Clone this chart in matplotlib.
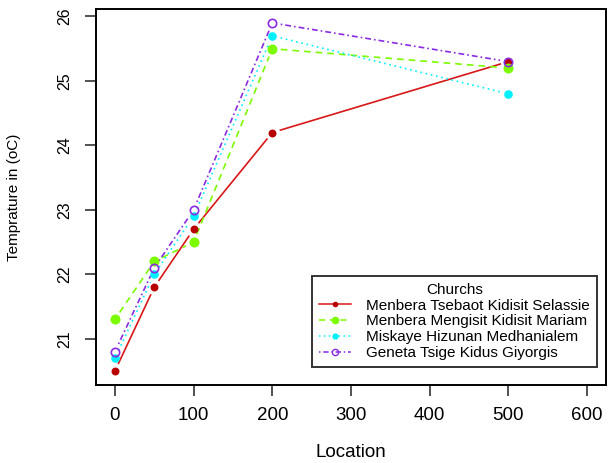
import numpy as np
import matplotlib
matplotlib.use("Agg")
import matplotlib.pyplot as plt
from matplotlib.lines import Line2D

plt.rcParams["font.family"] = ["Liberation Sans", "DejaVu Sans"]

location = [0, 50, 100, 200, 500]
selassie = [20.5, 21.8, 22.7, 24.2, 25.3]
mariam = [21.3, 22.2, 22.5, 25.5, 25.2]
medhanialem = [20.7, 22.0, 22.9, 25.7, 24.8]
giyorgis = [20.8, 22.1, 23.0, 25.9, 25.3]
names = ["Menbera Tsebaot Kidisit Selassie", "Menbera Mengisit Kidisit Mariam",
         "Miskaye Hizunan Medhanialem", "Geneta Tsige Kidus Giyorgis"]
xticks = [0, 100, 200, 300, 400, 500, 600]
yticks = [21, 22, 23, 24, 25, 26]

styles = [
    dict(color="#D81818", dashes=None, ms=4.5, mfc="#B80000", mec="#B80000"),
    dict(color="#7CFC00", dashes=(4, 3), ms=6, mfc="#7CFC00", mec="#7CFC00"),
    dict(color="#00F0FF", dashes=(1, 2.2), ms=5, mfc="#00F0FF", mec="#00F0FF"),
    dict(color="#8A2BE2", dashes=(1, 1.8, 3.5, 1.8), ms=6, mfc="none", mec="#8A2BE2"),
]

fig = plt.figure(figsize=(6.09, 4.63), dpi=100)
ax = fig.add_axes([96 / 609, 78 / 463, 510 / 609, 376 / 463])

# R style limits: range plus 4%
ax.set_xlim(-24, 624)
ax.set_ylim(20.284, 26.116)

gap = 8.5  # pixel gap around each point, like type="b"
series = [selassie, mariam, medhanialem, giyorgis]
for vals, st in zip(series, styles):
    pts = ax.transData.transform(np.column_stack([location, vals]))
    for p0, p1 in zip(pts[:-1], pts[1:]):
        d = p1 - p0
        n = np.hypot(*d)
        if n <= 2 * gap:
            continue
        u = d / n
        seg = ax.transData.inverted().transform(np.array([p0 + u * gap, p1 - u * gap]))
        ln, = ax.plot(seg[:, 0], seg[:, 1], color=st["color"], lw=1.2)
        if st["dashes"]:
            ln.set_dashes(st["dashes"])
for vals, st in zip(series, styles):
    ax.plot(location, vals, linestyle="none", marker="o", ms=st["ms"],
            mfc=st["mfc"], mec=st["mec"], mew=1.2)

ax.set_xticks(xticks)
ax.set_yticks(yticks)
ax.set_xticklabels([str(t) for t in xticks], fontsize=13.5)
ax.set_yticklabels([str(t) for t in yticks], fontsize=11.5, rotation=90, va="center")
ax.tick_params(axis="both", direction="out", length=8, width=1.2, color="#333333")
ax.tick_params(axis="x", pad=8)
ax.tick_params(axis="y", pad=9)
for sp in ax.spines.values():
    sp.set_linewidth(1.4)
ax.set_xlabel("Location", fontsize=13.5, labelpad=14)
ax.set_ylabel("Temprature in (oC)", fontsize=11, labelpad=26)

handles = []
for st in styles:
    h = Line2D([], [], color=st["color"], lw=1.1, marker="o", ms=st["ms"] - 1.5,
               mfc=st["mfc"], mec=st["mec"], mew=1.0)
    if st["dashes"]:
        h.set_dashes(st["dashes"])
    handles.append(h)
leg = ax.legend(handles, names, title="Churchs", loc="lower right",
                bbox_to_anchor=(597 / 609, 96 / 463), bbox_transform=fig.transFigure,
                fontsize=11, title_fontsize=11, frameon=True, fancybox=False,
                handlelength=2.1, handletextpad=1.0, labelspacing=0.12,
                borderpad=0.45, borderaxespad=0)
leg.get_frame().set_edgecolor("black")
leg.get_frame().set_linewidth(1.4)

fig.savefig("out.png", dpi=100)
